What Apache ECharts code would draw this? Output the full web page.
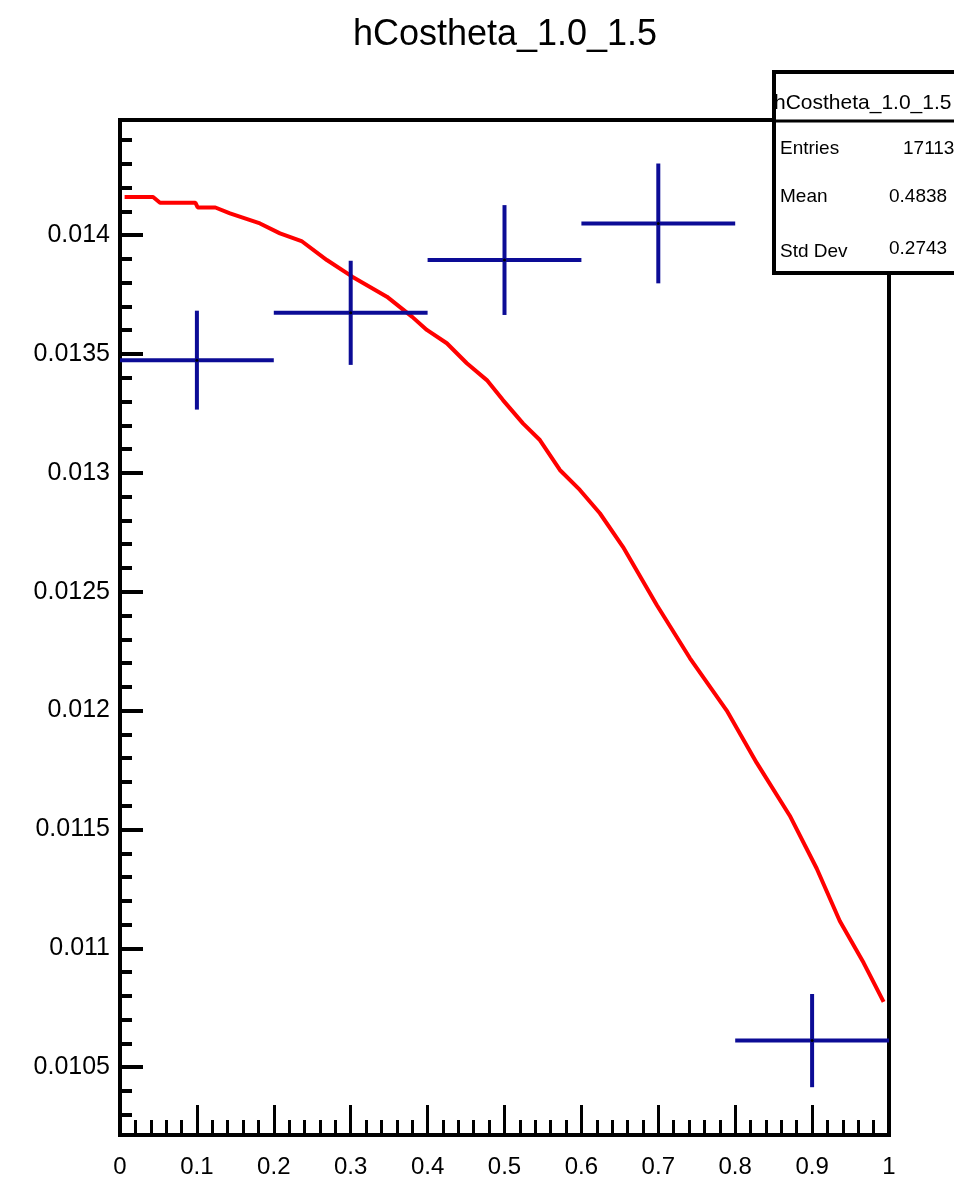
<!DOCTYPE html>
<html>
<head>
<meta charset="utf-8">
<script src="https://cdn.jsdelivr.net/npm/echarts@6/dist/echarts.min.js"></script>
<style>
  html, body { margin: 0; padding: 0; background: #fff; }
  #chart { width: 954px; height: 1194px; }
</style>
</head>
<body>
<div id="chart"></div>
<script>
// histogram points (bin centre, content, error)
var binCenters = [0.1, 0.3, 0.5, 0.7, 0.9];
var binHalfWidth = [0.1, 0.1, 0.1, 0.1, 0.1];
var binValues = [0.013474, 0.013673, 0.013895, 0.014049, 0.010612];
var binErrors = [0.000208, 0.000219, 0.000231, 0.000252, 0.000196];

// fitted curve (red)
var fitX = [0.006, 0.043, 0.052, 0.098, 0.101, 0.124, 0.143, 0.182, 0.208, 0.236,
  0.269, 0.302, 0.347, 0.380, 0.399, 0.425, 0.451, 0.477, 0.498, 0.524,
  0.546, 0.572, 0.598, 0.624, 0.654, 0.698, 0.741, 0.789, 0.828, 0.871,
  0.906, 0.936, 0.967, 0.993];
var fitY = [0.014160, 0.014160, 0.014136, 0.014136, 0.014116, 0.014116, 0.014091, 0.014049, 0.014007, 0.013975,
  0.013895, 0.013825, 0.013741, 0.013656, 0.013601, 0.013545, 0.013461, 0.013390, 0.013306, 0.013208,
  0.013138, 0.013012, 0.012928, 0.012830, 0.012689, 0.012444, 0.012221, 0.012000, 0.011780, 0.011558,
  0.011336, 0.011115, 0.010939, 0.010775];

// axis
var yMin = 0.010215, yMax = 0.014484;
var yMajorTicks = [0.0105, 0.011, 0.0115, 0.012, 0.0125, 0.013, 0.0135, 0.014];
var yMinorTicks = [];
for (var k = 103; k <= 144; k++) {
  if (k % 5 !== 0) yMinorTicks.push(k / 10000);
}

// stats box
var statsTitle = "hCostheta_1.0_1.5";
var statsNames = ["Entries", "Mean", "Std Dev"];
var statsValues = ["17113", "0.4838", "0.2743"];

var FONT = "'Liberation Sans', Arial, Helvetica, sans-serif";
var blue = "#0c0c96";

var fitData = fitX.map(function (x, i) { return [x, fitY[i]]; });
var histData = binCenters.map(function (x, i) {
  return [x, binValues[i], binHalfWidth[i], binErrors[i]];
});

var statsGraphic = [
  {
    type: "rect", z: 100,
    shape: { x: 774, y: 72, width: 200, height: 201 },
    style: { fill: "#fff", stroke: "none" }
  },
  {
    type: "text", z: 101,
    style: { text: statsTitle, x: 774, y: 103, fill: "#000", font: "21px " + FONT, verticalAlign: "middle", align: "left" }
  },
  {
    type: "rect", z: 102,
    shape: { x: 774, y: 72, width: 200, height: 201 },
    style: { fill: "none", stroke: "#000", lineWidth: 4 }
  },
  {
    type: "line", z: 102,
    shape: { x1: 774, y1: 121, x2: 954, y2: 121 },
    style: { stroke: "#000", lineWidth: 3 }
  }
];
var rowY = [149, 197, 252];
var valX = [903, 889, 889];
statsNames.forEach(function (n, i) {
  statsGraphic.push({
    type: "text", z: 101,
    style: { text: n, x: 780, y: rowY[i], fill: "#000", font: "19px " + FONT, verticalAlign: "middle", align: "left" }
  });
  statsGraphic.push({
    type: "text", z: 101,
    style: { text: statsValues[i], x: valX[i], y: rowY[i] - (i === 2 ? 3 : 0), fill: "#000", font: "19px " + FONT, verticalAlign: "middle", align: "left" }
  });
});

var chart = echarts.init(document.getElementById("chart"));
chart.setOption({
  animation: false,
  backgroundColor: "#fff",
  textStyle: { fontFamily: FONT },
  title: {
    text: "hCostheta_1.0_1.5",
    left: 500,
    top: 12,
    textAlign: "center",
    textStyle: { fontSize: 36, fontWeight: "normal", color: "#000", fontFamily: FONT }
  },
  grid: {
    left: 120, top: 120, right: 65, bottom: 59,
    show: true, borderColor: "#000", borderWidth: 4, backgroundColor: "transparent"
  },
  xAxis: {
    type: "value", min: 0, max: 1, interval: 0.1,
    axisLine: { show: false },
    axisTick: { show: true, inside: true, length: 30, lineStyle: { color: "#000", width: 3 } },
    minorTick: { show: true, splitNumber: 5, length: 15, lineStyle: { color: "#000", width: 3 } },
    splitLine: { show: false },
    axisLabel: {
      color: "#000", fontSize: 24, margin: 20, fontFamily: FONT,
      formatter: function (v) { return String(+v.toFixed(1)); }
    }
  },
  yAxis: [
    {
      type: "value", min: yMin, max: yMax,
      axisLine: { show: false },
      splitLine: { show: false },
      axisTick: { show: true, inside: true, length: 23, customValues: yMajorTicks, lineStyle: { color: "#000", width: 4 } },
      axisLabel: {
        color: "#000", fontSize: 25, margin: 10, fontFamily: FONT, customValues: yMajorTicks,
        formatter: function (v) { return String(+v.toFixed(4)); }
      }
    },
    {
      type: "value", min: yMin, max: yMax, position: "left",
      axisLine: { show: false },
      splitLine: { show: false },
      axisLabel: { show: false },
      axisTick: { show: true, inside: true, length: 12, customValues: yMinorTicks, lineStyle: { color: "#000", width: 4 } }
    }
  ],
  graphic: statsGraphic,
  series: [
    {
      type: "line",
      data: fitData,
      yAxisIndex: 0,
      showSymbol: false,
      smooth: false,
      clip: true,
      lineStyle: { color: "#ff0000", width: 4 },
      z: 3
    },
    {
      type: "custom",
      data: histData,
      yAxisIndex: 0,
      clip: true,
      z: 4,
      renderItem: function (params, api) {
        var x = api.value(0), y = api.value(1), ex = api.value(2), ey = api.value(3);
        var c = api.coord([x, y]);
        var l = api.coord([x - ex, y]);
        var r = api.coord([x + ex, y]);
        var t = api.coord([x, y + ey]);
        var b = api.coord([x, y - ey]);
        return {
          type: "group",
          children: [
            { type: "line", shape: { x1: l[0], y1: l[1], x2: r[0], y2: r[1] }, style: { stroke: blue, lineWidth: 4 } },
            { type: "line", shape: { x1: t[0], y1: t[1], x2: b[0], y2: b[1] }, style: { stroke: blue, lineWidth: 4 } },
            { type: "circle", shape: { cx: c[0], cy: c[1], r: 1.5 }, style: { fill: "#000" } }
          ]
        };
      }
    }
  ]
});
</script>
</body>
</html>
